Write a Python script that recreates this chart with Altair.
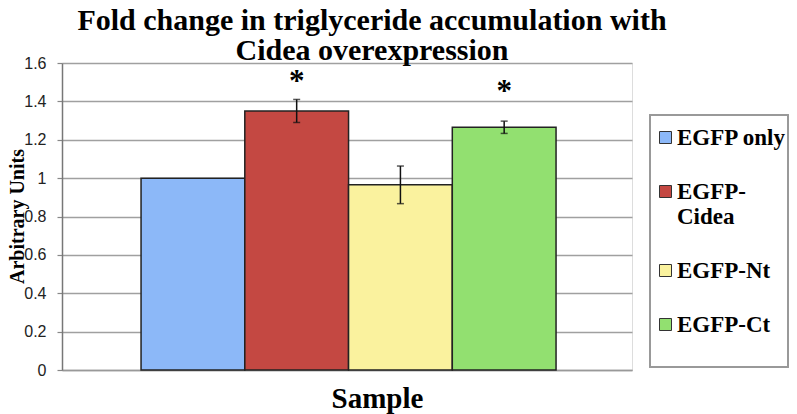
import altair as alt
import pandas as pd

samples = ["EGFP only", "EGFP-Cidea", "EGFP-Nt", "EGFP-Ct"]
means = [1.0, 1.35, 0.965, 1.265]
errors = [0.0, 0.06, 0.098, 0.032]
stars = ["", "*", "", "*"]
star_levels = [None, 1.52, None, 1.47]
colors = ["#8CB8F8", "#C44842", "#FAF29E", "#92E070"]
y_ticks = [0, 0.2, 0.4, 0.6, 0.8, 1.0, 1.2, 1.4, 1.6]

df = pd.DataFrame({
    "Sample": samples,
    "mean": means,
    "err": errors,
    "star": stars,
    "star_y": star_levels,
})
df["lo"] = df["mean"] - df["err"]
df["hi"] = df["mean"] + df["err"]

W, H = 570, 307

x_scale = alt.Scale(domain=samples, paddingInner=0, paddingOuter=0.747, align=0.51)
y_scale = alt.Scale(domain=[0, 1.6], nice=False, zero=True)

x_axis = alt.Axis(labels=False, ticks=False, domainColor="#999999",
                  domainWidth=1.5, title="Sample",
                  titleFont="Liberation Serif", titleFontWeight="bold",
                  titleFontSize=29, titleColor="#000000",
                  titleX=315, titleY=37, titleBaseline="alphabetic",
                  titleAlign="center")
y_axis = alt.Axis(values=y_ticks, title="Arbitrary Units",
                  labelFont="Liberation Sans", labelFontSize=16,
                  labelColor="#222222", labelPadding=11, labelOverlap=False,
                  labelExpr="datum.value == 0 || datum.value == 1 ? format(datum.value, 'd') : format(datum.value, '.1f')",
                  tickSize=5, tickColor="#888888", tickWidth=1.2,
                  domainColor="#777777", domainWidth=1.5,
                  grid=True, gridColor="#A0A0A0", gridWidth=1.5,
                  titleFont="Liberation Serif", titleFontWeight="bold",
                  titleFontSize=20, titleColor="#000000",
                  titleX=-45, titleY=153, titleAngle=-90,
                  titleBaseline="middle", titleAlign="center")


def xe():
    return alt.X("Sample:N", sort=samples, scale=x_scale, axis=x_axis)


def ye(field):
    return alt.Y(field, type="quantitative", scale=y_scale, axis=y_axis)


bars = alt.Chart(df).mark_bar(stroke="#222222", strokeWidth=1.5, opacity=1).encode(
    x=xe(),
    y=ye("mean"),
    color=alt.Color("Sample:N", sort=samples,
                    scale=alt.Scale(domain=samples, range=colors),
                    legend=alt.Legend(
                        title=None, orient="none", legendX=592, legendY=63,
                        symbolType="square", symbolSize=144,
                        symbolStrokeColor="#333333", symbolStrokeWidth=1,
                        symbolOpacity=1,
                        labelFont="Liberation Serif", labelFontWeight="bold",
                        labelFontSize=23, labelColor="#000000",
                        labelLimit=200, labelOffset=0, rowPadding=30,
                        padding=0,
                        labelExpr="datum.label == 'EGFP-Cidea' ? ['EGFP-', 'Cidea'] : datum.label")),
)

err_df = df[df["err"] > 0]
err_base = alt.Chart(err_df)
rules = err_base.mark_rule(color="#111111", strokeWidth=1.5).encode(
    x=xe(),
    y=ye("lo"),
    y2="hi:Q",
)
caps_lo = err_base.mark_tick(color="#111111", size=7, thickness=1.5).encode(
    x=xe(),
    y=ye("lo"),
)
caps_hi = err_base.mark_tick(color="#111111", size=7, thickness=1.5).encode(
    x=xe(),
    y=ye("hi"),
)

star_df = df[df["star"] != ""]
star_text = alt.Chart(star_df).mark_text(
    font="Liberation Serif", fontSize=31, fontWeight="bold",
    baseline="middle", dy=4, color="#000000").encode(
    x=xe(),
    y=ye("star_y"),
    text="star:N",
)

legend_box = alt.Chart(df).mark_rect(
    fill="#FFFFFF", fillOpacity=0, stroke="#999999", strokeWidth=1.5).encode(
    x=alt.value(588), x2=alt.value(726), y=alt.value(52), y2=alt.value(304))

chart = alt.layer(bars, rules, caps_lo, caps_hi, star_text, legend_box).properties(
    width=W, height=H,
    autosize=alt.AutoSizeParams(type="none"),
    padding={"left": 54, "top": 55, "right": 157, "bottom": 44},
    title=alt.TitleParams(
        text=["Fold change in triglyceride accumulation with", "Cidea overexpression"],
        font="Liberation Serif", fontWeight="bold", fontSize=30, lineHeight=30,
        color="#000000", anchor="middle", dx=25, dy=17, offset=6),
).configure_view(stroke="#999999", strokeWidth=1.5).configure(
    background="#FFFFFF"
).configure_legend(
    labelFont="Liberation Serif", labelFontWeight="bold", labelFontSize=23
).configure_axis(
    titleFont="Liberation Serif", titleFontWeight="bold"
)

chart.save("out.html", embed_options={"renderer": "svg", "actions": False})
